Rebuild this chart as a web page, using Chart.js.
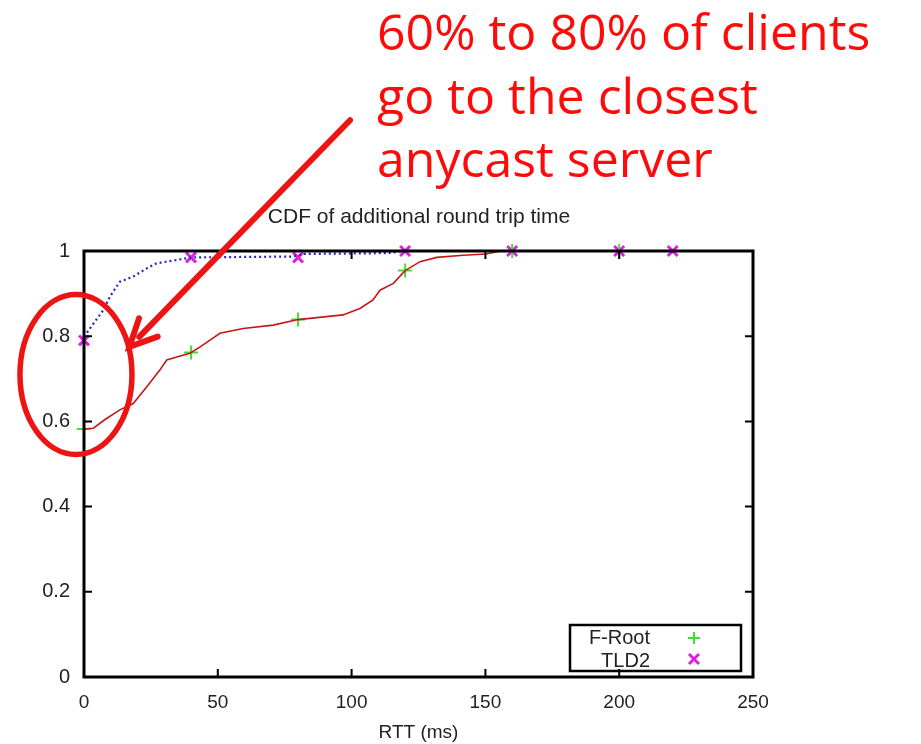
<!DOCTYPE html>
<html>
<head>
<meta charset="utf-8">
<script src="https://cdn.jsdelivr.net/npm/chart.js@4/dist/chart.umd.min.js"></script>
<style>
  html, body { margin: 0; padding: 0; background: #fff; }
  #wrap { width: 921px; height: 744px; }
</style>
</head>
<body>
<div id="wrap"><canvas id="cdf" width="921" height="744"></canvas></div>
<script>
// CDF curves (x = RTT ms, y = fraction)
const frootX = [0, 3.5, 8, 13.4, 18.4, 23.4, 28.4, 30.9, 35, 39.6, 43.4, 50.8, 59.5, 70.7, 80, 90.6, 96.8, 103.1, 108, 110.6, 115.6, 120, 125.6, 131.8, 141.7, 150.4, 155.5, 160];
const frootY = [0.582, 0.584, 0.605, 0.627, 0.642, 0.681, 0.721, 0.744, 0.752, 0.760, 0.775, 0.807, 0.818, 0.826, 0.839, 0.846, 0.850, 0.865, 0.885, 0.908, 0.924, 0.954, 0.975, 0.985, 0.990, 0.993, 1.0, 1.0];
const tldX = [0, 2.2, 7.2, 9.7, 13.4, 18.4, 23.4, 27.1, 34.6, 40.2, 78, 81.9, 113, 120];
const tldY = [0.799, 0.818, 0.861, 0.893, 0.928, 0.940, 0.959, 0.971, 0.979, 0.985, 0.987, 0.993, 0.995, 1.0];
// point markers every 40 ms
const frootMarkX = [0, 40, 80, 120, 160, 200];
const frootMarkY = [0.582, 0.762, 0.839, 0.954, 1, 1];
const tldMarkX = [0, 40, 80, 120, 160, 200, 220];
const tldMarkY = [0.79, 0.985, 0.985, 1, 1, 1, 1];

const seriesNames = ["F-Root", "TLD2"];
const xTicks = [0, 50, 100, 150, 200, 250];
const yTicks = [0, 0.2, 0.4, 0.6, 0.8, 1];
const chartTitle = "CDF of additional round trip time";
const xTitle = "RTT (ms)";
const noteLines = ["60% to 80% of clients", "go to the closest", "anycast server"];

const zip = (xs, ys) => xs.map((x, i) => ({ x, y: ys[i] }));
const FONT = "'Liberation Sans', Arial, sans-serif";

const decorations = {
  id: "decorations",
  afterDraw(chart) {
    const ctx = chart.ctx;
    const a = chart.chartArea;
    const xs = chart.scales.x, ys = chart.scales.y;
    ctx.save();

    // frame + inward gnuplot-style ticks
    ctx.strokeStyle = "#000";
    ctx.lineWidth = 3;
    ctx.strokeRect(a.left, a.top, a.right - a.left, a.bottom - a.top);
    ctx.lineWidth = 2;
    ctx.beginPath();
    yTicks.forEach(v => {
      const p = ys.getPixelForValue(v);
      ctx.moveTo(a.left, p); ctx.lineTo(a.left + 8, p);
      ctx.moveTo(a.right, p); ctx.lineTo(a.right - 8, p);
    });
    xTicks.forEach(v => {
      const p = xs.getPixelForValue(v);
      ctx.moveTo(p, a.bottom); ctx.lineTo(p, a.bottom - 8);
      ctx.moveTo(p, a.top); ctx.lineTo(p, a.top + 8);
    });
    ctx.stroke();

    // chart title
    ctx.fillStyle = "#222";
    ctx.font = "21px " + FONT;
    ctx.textAlign = "center";
    ctx.textBaseline = "alphabetic";
    ctx.fillText(chartTitle, 419, 223);

    // legend box
    const lx = 570, ly = 625, lw = 171, lh = 46;
    ctx.strokeStyle = "#000";
    ctx.lineWidth = 2.5;
    ctx.strokeRect(lx, ly, lw, lh);
    ctx.font = "20px " + FONT;
    ctx.textAlign = "right";
    ctx.fillStyle = "#222";
    ctx.fillText(seriesNames[0], 650, 644);
    ctx.fillText(seriesNames[1], 650, 667);
    const drawMark = (cx, cy, rot, color) => {
      ctx.strokeStyle = color; ctx.lineWidth = rot ? 3 : 2;
      ctx.beginPath();
      if (rot) {
        ctx.moveTo(cx - 5, cy - 5); ctx.lineTo(cx + 5, cy + 5);
        ctx.moveTo(cx + 5, cy - 5); ctx.lineTo(cx - 5, cy + 5);
      } else {
        ctx.moveTo(cx - 6, cy); ctx.lineTo(cx + 6, cy);
        ctx.moveTo(cx, cy - 6); ctx.lineTo(cx, cy + 6);
      }
      ctx.stroke();
    };
    drawMark(694, 638, false, "#44dd33");
    drawMark(694, 659, true, "#dd22dd");

    // red annotation, fitted to the slide's width
    ctx.fillStyle = "#ff0a0a";
    ctx.textAlign = "left";
    ctx.font = "50px 'Open Sans', 'DejaVu Sans', sans-serif";
    const sx = Math.min(1, 496 / ctx.measureText(noteLines[0]).width);
    noteLines.forEach((t, i) => {
      ctx.save();
      ctx.translate(377, 50 + i * 63.5);
      ctx.scale(sx, 1);
      ctx.fillText(t, 0, 0);
      ctx.restore();
    });

    // arrow from text towards the circled region
    const red = "#ee1414";
    const x0 = xs.getPixelForValue(99.4), y0 = ys.getPixelForValue(1.307);
    const x1 = xs.getPixelForValue(17), y1 = ys.getPixelForValue(0.775);
    const ang = Math.atan2(y1 - y0, x1 - x0);
    ctx.strokeStyle = red;
    ctx.lineWidth = 6;
    ctx.lineCap = "round";
    ctx.beginPath();
    ctx.moveTo(x0, y0);
    ctx.lineTo(x1 - 14 * Math.cos(ang), y1 - 14 * Math.sin(ang));
    ctx.stroke();
    ctx.beginPath();
    ctx.moveTo(x1 - 30 * Math.cos(ang - 0.45), y1 - 30 * Math.sin(ang - 0.45));
    ctx.lineTo(x1, y1);
    ctx.lineTo(x1 - 30 * Math.cos(ang + 0.45), y1 - 30 * Math.sin(ang + 0.45));
    ctx.stroke();

    // ellipse around x = 0, y in 0.6..0.8
    const cx = xs.getPixelForValue(-3), cy = ys.getPixelForValue(0.71);
    ctx.lineWidth = 5.5;
    ctx.beginPath();
    ctx.ellipse(cx, cy, 56, 80, 0, 0, Math.PI * 2);
    ctx.stroke();
    ctx.restore();
  }
};

new Chart(document.getElementById("cdf"), {
  type: "scatter",
  data: {
    datasets: [
      {
        label: seriesNames[0] + " line",
        data: zip(frootX, frootY),
        showLine: true,
        borderColor: "#c41818",
        borderWidth: 1.6,
        pointRadius: 0
      },
      {
        label: seriesNames[1] + " line",
        data: zip(tldX, tldY),
        showLine: true,
        borderColor: "#2424c8",
        borderWidth: 2.2,
        borderDash: [2, 3],
        pointRadius: 0
      },
      {
        label: seriesNames[0],
        data: zip(frootMarkX, frootMarkY),
        pointStyle: "cross",
        pointRadius: 7,
        pointBorderWidth: 2,
        borderColor: "#44dd33",
        backgroundColor: "#44dd33",
        clip: false
      },
      {
        label: seriesNames[1],
        data: zip(tldMarkX, tldMarkY),
        pointStyle: "crossRot",
        pointRadius: 7,
        pointBorderWidth: 3,
        borderColor: "#dd22dd",
        backgroundColor: "#dd22dd",
        clip: false
      }
    ]
  },
  options: {
    responsive: false,
    animation: false,
    layout: { padding: { left: 0, top: 251, right: 168, bottom: 0 } },
    plugins: {
      legend: { display: false },
      title: { display: false },
      tooltip: { enabled: false }
    },
    scales: {
      x: {
        type: "linear",
        min: 0, max: 250,
        afterBuildTicks: s => { s.ticks = xTicks.map(v => ({ value: v })); },
        afterFit: s => { s.height = 67; },
        grid: { display: false },
        border: { display: false },
        ticks: { color: "#222", font: { size: 19, family: FONT }, padding: 6 },
        title: { display: true, text: xTitle, color: "#222", font: { size: 19, family: FONT }, padding: { top: 10, bottom: 0 } }
      },
      y: {
        type: "linear",
        min: 0, max: 1,
        afterBuildTicks: s => { s.ticks = yTicks.map(v => ({ value: v })); },
        afterFit: s => { s.width = 84; },
        grid: { display: false },
        border: { display: false },
        ticks: { color: "#222", font: { size: 20, family: FONT }, padding: 6, callback: v => String(+v.toFixed(1)) }
      }
    }
  },
  plugins: [decorations]
});
</script>
</body>
</html>
